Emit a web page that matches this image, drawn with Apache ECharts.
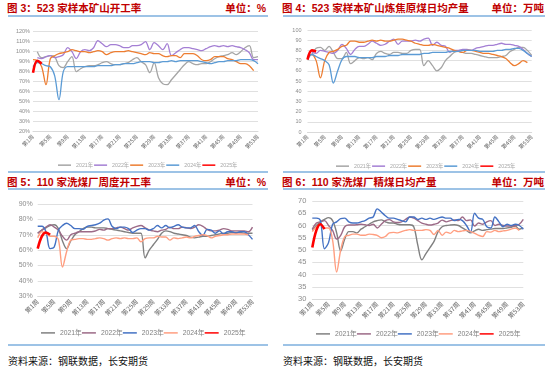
<!DOCTYPE html>
<html><head><meta charset="utf-8">
<script src="https://cdn.jsdelivr.net/npm/echarts@6/dist/echarts.min.js"></script>
<style>
body{margin:0;width:550px;height:369px;background:#fff;position:relative;overflow:hidden;font-family:"Liberation Sans","Noto Sans CJK SC",sans-serif;}
.t{position:absolute;font-size:10.5px;font-weight:bold;color:#C00000;white-space:nowrap;line-height:1;font-family:"Liberation Sans","Noto Sans CJK SC",sans-serif;}
.r{text-align:right;}
.hr{position:absolute;height:2px;background:#9DC3E6;}
.c{position:absolute;width:275px;height:150px;}
.src{position:absolute;font-size:10px;color:#111;font-family:"Noto Sans CJK SC",sans-serif;white-space:nowrap;line-height:1;}
</style></head><body>
<div class="t" style="left:7px;top:3px;">图 3：523 家样本矿山开工率</div>
<div class="t r" style="right:284px;top:3px;">单位：%</div>
<div class="hr" style="left:8px;top:15px;width:260px;"></div>
<div class="t" style="left:282px;top:3px;">图 4：523 家样本矿山炼焦原煤日均产量</div>
<div class="t r" style="right:6px;top:3px;">单位：万吨</div>
<div class="hr" style="left:283px;top:15px;width:262px;"></div>

<div class="hr" style="left:8px;top:171px;width:260px;"></div>
<div class="t" style="left:7px;top:177px;">图 5：110 家洗煤厂周度开工率</div>
<div class="t r" style="right:284px;top:177px;">单位：%</div>
<div class="hr" style="left:8px;top:188px;width:260px;"></div>
<div class="hr" style="left:283px;top:171px;width:262px;"></div>
<div class="t" style="left:282px;top:177px;">图 6：110 家洗煤厂精煤日均产量</div>
<div class="t r" style="right:6px;top:177px;">单位：万吨</div>
<div class="hr" style="left:283px;top:188px;width:262px;"></div>

<div class="hr" style="left:8px;top:344px;width:260px;"></div>
<div class="hr" style="left:283px;top:344px;width:262px;"></div>
<div class="src" style="left:8px;top:356px;">资料来源：钢联数据，长安期货</div>
<div class="src" style="left:283px;top:356px;">资料来源：钢联数据，长安期货</div>

<div id="c3" class="c" style="left:0;top:20px;"></div>
<div id="c4" class="c" style="left:275px;top:20px;"></div>
<div id="c5" class="c" style="left:0;top:192px;"></div>
<div id="c6" class="c" style="left:275px;top:192px;"></div>
<script>
const weeks = Array.from({length:53},(_,i)=>'第'+(i+1)+'周');
const years = ['2021年','2022年','2023年','2024年','2025年'];
const colorsTop = ['#A5A5A5','#A47FD4','#ED7D31','#5B9BD5','#FF0000'];
const colorsBot = ['#808080','#9C6A87','#4472C4','#FF9E80','#FF0000'];

// 图3 523家样本矿山开工率 (%)
const g3_2021 = [null,100,94,95,96,95,86,84,90,95,80,83,85,86,86,87,89,90,88,87,87,88,89,92,94,90,87,79,89,74,68,67,72,77,82,87,90,88,87,88,88,90,93,95,96,97,99,97,100,104,106,94,95];
const g3_2022 = [null,94,93,95,96,94,95,97,104,100,93,100,102,101,104,111,108,105,107,107,106,104,104,106,106,107,110,102,109,106,102,108,96,99,102,104,104,103,102,101,103,105,106,105,106,105,106,105,104,102,99,92,92];
const g3_2023 = [92,91,85,67,93,96,98,99,100,102,101,100,100,99,100,101,100,97,99,100,100,100,101,100,99,98,97,99,98,98,96,95,96,96,94,98,98,98,96,92,91,92,95,95,95,93,92,90,88,88,86,81,null];
const g3_2024 = [85,89,88,86,85,76,52,80,85,85,85,85,85,85,85,86,86,86,86,87,87,88,88,88,89,90,90,90,89,89,90,90,91,90,91,91,91,91,91,90,89,88,89,90,90,91,91,91,92,92,92,91,88];
const g3_2025 = [79,91,88];

// 图4 523家样本矿山炼焦原煤日均产量 (万吨)
const g4_2021 = [null,76,82,83,80,84,78,72,72,78,67,70,73,72,73,71,77,79,77,76,78,78,77,77,80,81,81,65,70,65,60,63,70,74,78,79,78,77,77,76,75,74,73,73,73,74,75,79,81,83,83,80,75];
const g4_2022 = [null,78,77,80,79,78,77,80,86,82,76,81,84,84,86,89,87,85,86,89,91,86,89,89,89,90,89,91,92,85,88,85,84,78,80,80,81,81,80,82,83,84,85,85,86,87,86,86,85,84,81,77,74];
const g4_2023 = [73,76,70,53,70,78,79,81,84,85,89,89,88,88,89,90,89,90,89,89,90,91,91,90,89,87,86,85,85,86,85,84,83,82,80,79,78,80,80,79,78,77,77,76,75,74,72,68,65,67,70,68,null];
const g4_2024 = [71,76,74,72,70,66,48,60,71,74,74,74,73,73,73,73,74,74,74,75,75,75,76,76,76,76,76,77,77,78,78,78,78,79,79,79,80,80,80,80,79,79,79,79,80,80,81,81,82,82,80,77,74];
const g4_2025 = [71,80,79];

// 图5 110家洗煤厂周度开工率 (%)
const g5_2021 = [71,73,74.5,76,76.5,74,66,61,66,70,72,74,75,75,74.5,74.5,74.5,74,73.5,73,72.5,72,71.5,71,71,71,55,60,63.5,67,71,72.5,72,71,70.5,70,69.5,68.5,68,68.5,69,69,69.5,70,70.5,71,71,71.5,71.5,71.5,71,71,71];
const g5_2022 = [71,73,75,76.5,75,73,69,66.5,70,71,72,72,72,72,72.5,73.5,73,74,74,74.5,75,74,73,74.5,75.5,76,74.5,73,72.5,72,73,73.5,75,74,74,75,74.5,74,75,76.5,75.5,73.5,72.5,72.5,73,74,73.5,72.5,72.5,72.5,72.5,72,75];
const g5_2023 = [75.5,75.5,72,61,62,73,76,77.5,76,74,74,73.5,75.5,76,76.5,77.5,79.5,80.3,75.5,74,75,75,74,71.5,73,74,74,73,74,76,74.5,76,74.5,75.5,76.5,75,74.5,74.5,76,72,69.5,73.5,73,71,72.5,70.5,72,72,71,72,72,70,67];
const g5_2024 = [68,72,71,69,69,67,49,59,66.5,67,67.5,67.5,67,67,67.5,68,67.5,66.5,67.5,68,67.5,68,67.5,67.5,68,65.5,67.5,68,68,69,68.5,68.5,66.5,68,67.5,68,68.5,68,69,69.5,70,69.5,68,69,69.5,70,70,70.5,70.5,70.5,70.5,70,null];
const g5_2025 = [61,69,71.5,70];

// 图6 110家洗煤厂精煤日均产量 (万吨)
const g6_2021 = [58,60,61.5,62.5,63.2,62,57,49.6,54.5,57.5,57.5,57,58.5,59.5,60.5,61.5,62,62.3,61.5,61,61,60.5,60.3,60.3,60.3,59.5,52,46,48.5,51,53.5,57.5,59.5,60,60.2,60.3,60,59,58,57,57.8,58.5,58,58.3,58.5,58.8,58.8,58.8,59,59.3,59.8,58.5,59];
const g6_2022 = [58.5,61,61.5,62,60,58,54.5,56,59.5,60.2,60.2,60.3,60.5,60.3,60,60.5,59,60.5,62,62.4,61.5,61.2,61.5,62.5,63.5,63,62,61,60.5,60.2,60.5,61,62.2,61.5,62,62.3,62,63.5,62,62.3,59.8,61,60.5,61.5,62,60,60.5,60,59.8,59.8,60,60.5,62.5];
const g6_2023 = [63,63,62,50.5,53,60.5,61.5,62.8,63,61.5,61,61,61.5,62,63,63.5,66.8,65.5,64,63,63,62.5,62,61.5,63.5,63.5,62.5,63,62.5,63,62.5,63,63.5,63,63,62,62.5,62,60,57.3,65,63,62.5,59.5,59,63.5,61.5,59.5,60.5,60,60.5,60,58.5];
const g6_2024 = [57.5,59.5,60.5,59,59,54,41,50,55.5,56,56.5,56.5,56,56,56.5,56.3,56,55,55.5,57,57.2,57,57.5,58,58.3,58,58,58,58.3,58,56.3,58,56,57.3,56.8,58,57.5,57.8,58,57.5,56.8,56,55.5,57.5,57.3,58,57.5,57.8,58,58.5,59,58,null];
const g6_2025 = [51,58,60.5,58.5];

function make(id, cfg){
  const chart = echarts.init(document.getElementById(id), null, {renderer:'canvas'});
  const series = cfg.data.map((d,i)=>({
    name: years[i], type:'line', data:d, smooth:0.35, symbol:'none', showSymbol:false,
    lineStyle:{color:cfg.colors[i], width: i===4 ? 2.6 : cfg.lw},
    itemStyle:{color:cfg.colors[i]}, z: 2+i
  }));
  chart.setOption({
    animation:false,
    grid:cfg.grid,
    legend:{data:years, left:cfg.legend.left, top:cfg.legend.top, icon:'rect',
      itemWidth:cfg.legend.iw, itemHeight:1.5, itemGap:cfg.legend.gap,
      textStyle:{fontSize:cfg.legend.fs, color:cfg.legend.color, fontFamily:'Liberation Sans, Noto Sans CJK SC'}},
    xAxis:{type:'category', data:weeks, boundaryGap:false,
      axisLine:{lineStyle:{color:'#D9D9D9'}}, axisTick:{show:false},
      axisLabel:{interval:3, rotate:45, fontSize:cfg.xfs, color:'#666', margin:4, fontFamily:'Noto Sans CJK SC'}},
    yAxis:{type:'value', min:cfg.y[0], max:cfg.y[1], interval:cfg.y[2],
      axisLine:{show:false}, axisTick:{show:false},
      splitLine:{lineStyle:{color:'#E0E0E0', width:1}},
      axisLabel:{formatter:cfg.fmt, fontSize:cfg.yfs, color:'#8C8C8C', margin:cfg.ym, fontFamily:'Liberation Sans'}},
    series
  });
}

make('c3', {data:[g3_2021,g3_2022,g3_2023,g3_2024,g3_2025], colors:colorsTop, lw:1.3,
  grid:{left:33, right:17, top:11.7, bottom:38.3},
  legend:{left:53, top:137.5, iw:13, gap:1, fs:5.3, color:'#A6A6A6'},
  y:[20,120,10], fmt:'{value}%', yfs:5.5, ym:3, xfs:5.5});
make('c4', {data:[g4_2021,g4_2022,g4_2023,g4_2024,g4_2025], colors:colorsTop, lw:1.3,
  grid:{left:32.5, right:18.3, top:10, bottom:38},
  legend:{left:56, top:138.5, iw:13, gap:1, fs:5.3, color:'#A6A6A6'},
  y:[0,100,10], fmt:'{value}', yfs:5.5, ym:6, xfs:5.5});
make('c5', {data:[g5_2021,g5_2022,g5_2023,g5_2024,g5_2025], colors:colorsBot, lw:1.4,
  grid:{left:37.7, right:22.5, top:12, bottom:45.7},
  legend:{left:36, top:132.5, iw:14, gap:0, fs:6.8, color:'#7F7F7F'},
  y:[30,90,10], fmt:'{value}%', yfs:7, ym:5, xfs:6.5});
make('c6', {data:[g6_2021,g6_2022,g6_2023,g6_2024,g6_2025], colors:colorsBot, lw:1.4,
  grid:{left:37.3, right:26.7, top:9, bottom:43},
  legend:{left:36, top:133.5, iw:14, gap:0, fs:6.8, color:'#7F7F7F'},
  y:[30,70,5], fmt:'{value}', yfs:7.5, ym:6, xfs:6.5});
</script>
</body></html>
